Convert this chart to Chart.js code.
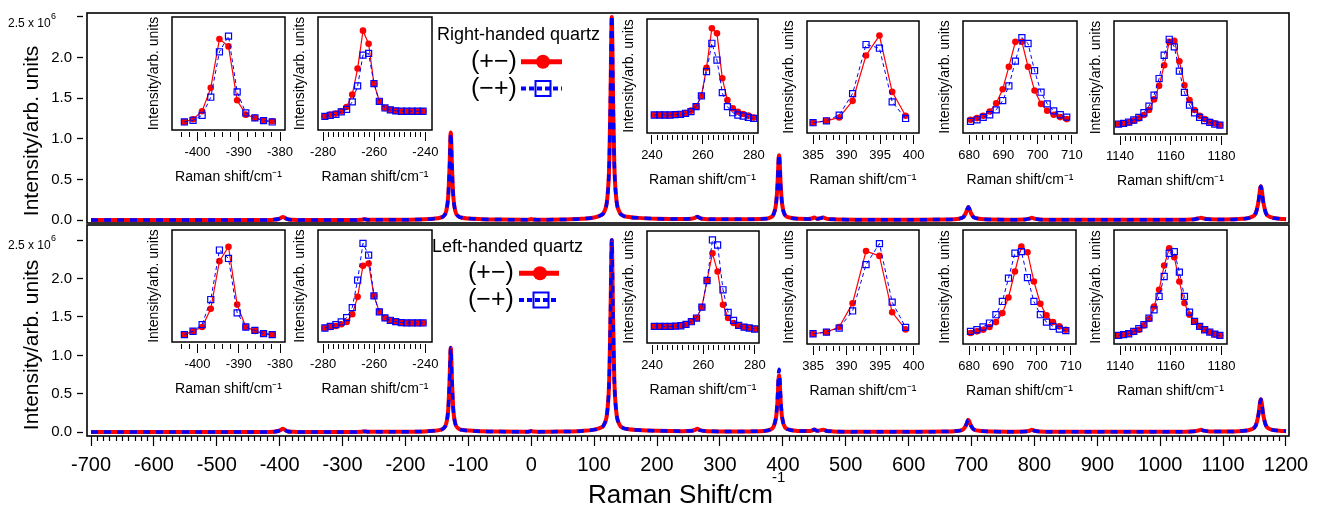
<!DOCTYPE html>
<html><head><meta charset="utf-8">
<script src="https://cdn.jsdelivr.net/npm/chart.js@4.4.1/dist/chart.umd.min.js"></script>
<style>
html,body{margin:0;padding:0;background:#fff;}
#wrap{position:relative;width:1322px;height:508px;overflow:hidden;background:#fff;}
#wrap canvas{position:absolute;}
#wrap svg{position:absolute;left:0;top:0;pointer-events:none;}
</style></head>
<body><div id="wrap"></div>
<script>
// ---------- main spectra (Raman shift in cm-1, intensity in units of 10^6) ----------
const mainShift = [-700,-600,-500,-430,-410,-402,-398,-395,-392,-388,
 -380,-360,-300,-280,-270,-265,-260,-250,-200,-170,
 -155,-145,-140,-135,-132,-130,-128,-126,-124,-121,
 -116,-110,-100,-80,-50,-10,-3,0,3,10,
 50,80,100,110,116,121,124,126,128,130,
 132,135,140,145,155,170,200,240,255,260,
 264,268,275,300,340,370,380,385,389,391,
 394,397,399,403,410,425,440,446,450,454,
 458,464,470,480,520,600,660,680,687,691,
 695,699,703,712,730,770,785,792,796,800,
 808,830,950,1040,1055,1061,1065,1069,1078,1100,
 1130,1145,1152,1156,1160,1164,1168,1175,1190,1200];
const topPlusMinus = [0.003,0.003,0.003,0.004,0.008,0.016,0.03,0.042,0.03,0.014,
 0.007,0.004,0.004,0.005,0.007,0.012,0.007,0.006,0.008,0.012,
 0.02,0.032,0.048,0.12,0.3,0.64,1.08,0.64,0.3,0.12,
 0.05,0.032,0.022,0.014,0.009,0.007,0.01,0.016,0.01,0.008,
 0.01,0.018,0.035,0.06,0.105,0.28,0.7,1.53,2.5,1.53,
 0.7,0.28,0.105,0.06,0.04,0.03,0.02,0.015,0.02,0.03,
 0.045,0.028,0.017,0.012,0.012,0.018,0.035,0.07,0.19,0.37,
 0.8,0.37,0.19,0.07,0.035,0.018,0.016,0.022,0.036,0.02,
 0.022,0.034,0.018,0.012,0.008,0.008,0.01,0.02,0.04,0.09,
 0.165,0.09,0.04,0.02,0.01,0.008,0.01,0.02,0.032,0.02,
 0.01,0.007,0.006,0.008,0.014,0.024,0.032,0.022,0.012,0.01,
 0.018,0.04,0.09,0.22,0.42,0.22,0.09,0.04,0.02,0.014];
const topMinusPlus = [0.003,0.003,0.003,0.004,0.008,0.016,0.03,0.042,0.03,0.014,
 0.007,0.004,0.004,0.005,0.007,0.012,0.007,0.006,0.008,0.012,
 0.02,0.032,0.048,0.12,0.3,0.63,1.07,0.63,0.3,0.12,
 0.05,0.032,0.022,0.014,0.009,0.007,0.01,0.016,0.01,0.008,
 0.01,0.018,0.035,0.06,0.105,0.28,0.7,1.54,2.52,1.54,
 0.7,0.28,0.105,0.06,0.04,0.03,0.02,0.015,0.02,0.03,
 0.045,0.028,0.017,0.012,0.012,0.018,0.035,0.07,0.19,0.37,
 0.81,0.37,0.19,0.07,0.035,0.018,0.016,0.022,0.036,0.02,
 0.022,0.034,0.018,0.012,0.008,0.008,0.01,0.02,0.04,0.09,
 0.165,0.09,0.04,0.02,0.01,0.008,0.01,0.02,0.032,0.02,
 0.01,0.007,0.006,0.008,0.014,0.024,0.032,0.022,0.012,0.01,
 0.018,0.04,0.09,0.22,0.42,0.22,0.09,0.04,0.02,0.014];
const bottomPlusMinus = [0.003,0.003,0.003,0.004,0.008,0.017,0.032,0.045,0.032,0.014,
 0.007,0.004,0.004,0.005,0.007,0.012,0.007,0.006,0.008,0.012,
 0.02,0.032,0.048,0.12,0.3,0.65,1.1,0.65,0.3,0.12,
 0.05,0.032,0.022,0.014,0.009,0.007,0.01,0.016,0.01,0.008,
 0.01,0.018,0.035,0.06,0.105,0.28,0.7,1.53,2.5,1.53,
 0.7,0.28,0.105,0.06,0.04,0.03,0.02,0.015,0.02,0.03,
 0.045,0.028,0.017,0.012,0.012,0.018,0.035,0.07,0.18,0.34,
 0.74,0.34,0.18,0.07,0.035,0.018,0.016,0.022,0.036,0.02,
 0.022,0.034,0.018,0.012,0.008,0.008,0.01,0.02,0.04,0.088,
 0.16,0.088,0.04,0.02,0.01,0.008,0.01,0.02,0.032,0.02,
 0.01,0.007,0.006,0.008,0.014,0.024,0.032,0.022,0.012,0.01,
 0.018,0.04,0.09,0.22,0.43,0.22,0.09,0.04,0.02,0.014];
const bottomMinusPlus = [0.003,0.003,0.003,0.004,0.008,0.017,0.032,0.045,0.032,0.014,
 0.007,0.004,0.004,0.005,0.007,0.012,0.007,0.006,0.008,0.012,
 0.02,0.032,0.048,0.12,0.3,0.65,1.1,0.65,0.3,0.12,
 0.05,0.032,0.022,0.014,0.009,0.007,0.01,0.016,0.01,0.008,
 0.01,0.018,0.035,0.06,0.105,0.28,0.7,1.53,2.5,1.53,
 0.7,0.28,0.105,0.06,0.04,0.03,0.02,0.015,0.02,0.03,
 0.045,0.028,0.017,0.012,0.012,0.018,0.035,0.075,0.2,0.38,
 0.82,0.38,0.2,0.075,0.035,0.018,0.016,0.022,0.036,0.02,
 0.022,0.034,0.018,0.012,0.008,0.008,0.01,0.02,0.04,0.09,
 0.165,0.09,0.04,0.02,0.01,0.008,0.01,0.02,0.032,0.02,
 0.01,0.007,0.006,0.008,0.014,0.024,0.032,0.022,0.012,0.01,
 0.018,0.04,0.09,0.22,0.43,0.22,0.09,0.04,0.02,0.014];
const mainXTickLabels = [-700,-600,-500,-400,-300,-200,-100,0,100,200,300,400,500,600,700,800,900,1000,1100,1200];
const mainYTickLabels = [0,0.5,1,1.5,2,2.5];

// ---------- insets (Raman shift in cm-1, intensity in arb. units) ----------
const insetShift1 = [-403.2,-401.1,-398.9,-396.8,-394.7,-392.5,-390.4,-388.3,-386.1,-384.0,-381.9];
const top1PlusMinus = [7.1,9.5,16.6,37.3,80.5,74.0,26.3,13.6,10.7,8.6,7.7];
const top1MinusPlus = [7.1,8.6,13.0,29.0,69.2,83.1,33.7,15.1,10.7,8.3,7.1];
const bottom1PlusMinus = [6.6,9.6,13.4,29.6,72.2,85.1,33.4,13.4,9.9,7.5,6.6];
const bottom1MinusPlus = [6.6,9.6,15.5,37.9,82.1,74.6,26.0,13.4,10.4,7.5,6.6];
const insetTicks1 = [-400,-390,-380];

const insetShift2 = [-279.3,-277.2,-275.0,-272.9,-270.8,-268.6,-266.5,-264.4,-262.2,-260.1,-258.0,-255.8,-253.7,-251.6,-249.4,-247.3,-245.2,-243.0,-240.9];
const top2PlusMinus = [12.1,13.6,14.5,16.6,20.4,31.4,54.4,87.9,76.3,41.1,25.4,19.5,17.8,16.9,16.6,16.6,16.6,16.6,16.6];
const top2MinusPlus = [12.1,13.0,13.9,16.0,18.3,24.9,39.1,66.3,67.8,41.1,25.4,19.5,17.8,16.9,16.6,16.6,16.6,16.6,16.6];
const bottom2PlusMinus = [12.5,13.4,14.3,15.8,17.9,24.8,40.3,68.1,70.1,41.2,26.9,21.5,19.4,18.2,17.3,17.0,17.0,17.0,17.0];
const bottom2MinusPlus = [12.5,14.0,15.5,17.9,21.8,30.7,55.2,88.1,77.6,41.2,26.9,21.5,19.4,18.2,17.3,17.0,17.0,17.0,17.0];
const insetTicks2 = [-280,-260,-240];

const insetShift3 = [240.9,243.0,245.0,247.1,249.1,251.2,253.2,255.3,257.3,259.4,261.4,263.5,265.5,267.6,269.6,271.7,273.7,275.8,277.8,279.9];
const top3PlusMinus = [15.8,15.8,15.8,15.8,16.1,16.4,17.5,19.6,23.1,32.5,57.3,91.8,87.4,48.0,28.9,21.6,18.7,16.7,15.2,13.5];
const top3MinusPlus = [15.8,15.8,15.8,15.8,16.1,16.4,17.3,18.7,23.1,32.5,53.8,78.7,64.0,35.4,23.1,17.8,15.8,14.9,13.7,12.9];
const bottom3PlusMinus = [14.8,14.8,14.8,14.8,15.1,15.4,16.6,19.0,22.3,32.0,55.8,80.1,63.8,34.1,22.3,17.8,15.7,14.2,13.4,12.5];
const bottom3MinusPlus = [14.8,14.8,14.8,14.8,15.1,15.4,16.6,19.0,22.3,32.0,55.8,92.0,87.5,47.5,27.3,20.2,15.7,14.2,13.4,12.5];
const insetTicks3 = [240,260,280];

const insetShift4 = [385.0,387.0,388.9,390.9,392.9,394.9,396.8,398.8];
const top4PlusMinus = [9.2,10.9,13.9,28.7,69.2,87.0,36.7,15.4];
const top4MinusPlus = [9.2,10.9,16.0,35.2,79.0,75.7,27.8,13.0];
const bottom4PlusMinus = [9.0,10.4,14.9,35.8,81.5,77.3,27.8,12.8];
const bottom4MinusPlus = [9.0,10.4,14.0,29.0,69.6,88.1,36.7,14.6];
const insetTicks4 = [385,390,395,400];

const insetShift5 = [680.4,682.3,684.1,686.0,687.9,689.8,691.6,693.5,695.4,697.2,699.1,701.0,702.8,704.7,706.6,708.5];
const top5PlusMinus = [11.8,13.3,15.4,19.2,26.6,39.1,59.2,81.4,81.4,59.2,37.9,26.0,19.8,16.3,14.2,12.4];
const top5MinusPlus = [10.4,11.8,13.9,16.3,20.7,29.0,42.0,64.2,85.2,79.9,55.6,36.4,26.0,19.8,16.3,14.2];
const bottom5PlusMinus = [9.6,11.1,12.5,14.9,19.2,27.1,40.8,63.6,85.4,80.5,54.8,35.3,25.1,19.2,15.5,12.5];
const bottom5MinusPlus = [11.1,12.5,14.9,18.4,25.7,37.3,57.7,79.6,81.0,58.3,37.3,25.7,19.2,15.5,13.1,11.7];
const insetTicks5 = [680,690,700,710];

const insetShift6 = [1139.4,1141.4,1143.4,1145.4,1147.4,1149.4,1151.4,1153.4,1155.4,1157.4,1159.4,1161.4,1163.4,1165.4,1167.4,1169.4,1171.4,1173.4,1175.4,1177.4,1179.4];
const top6PlusMinus = [8.8,9.4,10.3,11.8,13.8,16.8,21.2,30.6,42.6,60.9,81.5,82.4,64.4,43.2,30.0,21.2,16.2,13.2,10.9,9.4,7.9];
const top6MinusPlus = [8.8,9.4,10.6,12.4,14.7,18.8,24.7,34.4,49.1,69.7,83.8,77.1,55.6,36.8,25.6,18.8,14.7,11.8,10.3,8.8,7.9];
const bottom6PlusMinus = [7.6,8.2,9.0,10.5,12.5,16.3,21.9,32.9,47.5,68.8,84.0,76.1,54.8,35.9,25.7,19.8,15.5,12.5,10.5,8.7,7.6];
const bottom6MinusPlus = [7.6,8.2,9.0,11.1,13.4,16.9,22.7,30.0,41.7,59.2,79.6,81.0,63.0,41.7,28.0,19.8,15.5,12.5,10.5,8.7,7.6];
const insetTicks6 = [1140,1160,1180];

// ---------- rendering ----------
Chart.defaults.font.family = "'Liberation Sans', Arial, sans-serif";
Chart.defaults.color = '#000';
const RED = '#ff0000', BLUE = '#0000ff';
const wrap = document.getElementById('wrap');

const framePlugin = {
  id: 'frame',
  afterDatasetsDraw(chart, args, opts) {
    const a = chart.chartArea, ctx = chart.ctx;
    ctx.save();
    ctx.strokeStyle = '#000';
    ctx.lineWidth = opts.width || 1.5;
    ctx.strokeRect(a.left, a.top, a.right - a.left, a.bottom - a.top);
    ctx.restore();
  }
};

function addCanvas(left, top, w, h) {
  const c = document.createElement('canvas');
  c.width = w; c.height = h;
  c.style.left = left + 'px'; c.style.top = top + 'px';
  c.style.width = w + 'px'; c.style.height = h + 'px';
  wrap.appendChild(c);
  return c;
}
const pts = (xs, ys) => xs.map((x, i) => ({x: x, y: ys[i]}));

function mainChart(cfg) {
  const c = addCanvas(0, cfg.top, 1322, cfg.height);
  const minorTicks = [];
  for (let v = mainXTickLabels[0]; v <= mainXTickLabels[mainXTickLabels.length - 1]; v += 10) minorTicks.push(v);
  new Chart(c, {
    type: 'line',
    data: { datasets: [
      { data: pts(mainShift, cfg.red), borderColor: RED, borderWidth: 4, pointRadius: 0, cubicInterpolationMode: 'monotone',
        borderJoinStyle: 'round', order: 1 },
      { data: pts(mainShift, cfg.blue), borderColor: BLUE, borderWidth: 3.5, borderDash: [7, 6], pointRadius: 0,
        cubicInterpolationMode: 'monotone', borderJoinStyle: 'round', order: 0 }
    ]},
    options: {
      responsive: false, animation: false, devicePixelRatio: 1, events: [],
      layout: { padding: { left: 0, top: cfg.padTop, right: 33, bottom: cfg.padBottom } },
      plugins: { legend: { display: false }, tooltip: { enabled: false }, frame: { width: 1.6 } },
      scales: {
        x: {
          type: 'linear', min: -706.36, max: 1204.77, display: cfg.showX,
          afterBuildTicks: s => { s.ticks = minorTicks.map(v => ({value: v})); },
          afterFit: s => { s.height = cfg.showX ? 40 : 0; s.paddingLeft = 0; s.paddingRight = 0; },
          ticks: { autoSkip: false, maxRotation: 0, minRotation: 0, padding: 7, font: { size: 20 },
            callback: v => mainXTickLabels.includes(v) ? String(v) : '' },
          grid: { display: true, drawOnChartArea: false, drawTicks: true, tickLength: 10, tickColor: '#000', tickWidth: 1.2,
            tickBorderDash: ctx => (ctx.tick && mainXTickLabels.includes(ctx.tick.value)) ? [10, 100] : [5, 100] },
          border: { display: false }
        },
        y: {
          min: cfg.yMin, max: cfg.yMax,
          afterBuildTicks: s => { s.ticks = mainYTickLabels.map(v => ({value: v})); },
          afterFit: s => { s.width = 87; s.paddingTop = 0; s.paddingBottom = 0; },
          ticks: { padding: 5, font: { size: 15 }, callback: v => v === 2.5 ? '' : v.toFixed(1) },
          grid: { display: true, drawOnChartArea: false, drawTicks: true, tickLength: 10, tickColor: '#000', tickWidth: 1.3,
            tickBorderDash: [6, 100] },
          border: { display: false }
        }
      }
    },
    plugins: [framePlugin]
  });
}

mainChart({ top: 0, height: 232, padTop: 13, padBottom: 9, yMin: -0.033, yMax: 2.549, red: topPlusMinus, blue: topMinusPlus, showX: false });
mainChart({ top: 0, height: 508, padTop: 225, padBottom: 32, yMin: -0.048, yMax: 2.695, red: bottomPlusMinus, blue: bottomMinusPlus, showX: true });

const insets = [
  { shift: insetShift1, ticks: insetTicks1, from: -404, to: -380, step: 2, range: [-406.2, -378.8],
    top: [top1PlusMinus, top1MinusPlus], bottom: [bottom1PlusMinus, bottom1MinusPlus],
    fTop: [172, 17, 285, 130], fBot: [172, 230, 285, 342] },
  { shift: insetShift2, ticks: insetTicks2, from: -280, to: -240, step: 2, range: [-282.0, -237.4],
    top: [top2PlusMinus, top2MinusPlus], bottom: [bottom2PlusMinus, bottom2MinusPlus],
    fTop: [318, 17, 432, 130], fBot: [318, 230, 432, 342] },
  { shift: insetShift3, ticks: insetTicks3, from: 240, to: 280, step: 2, range: [238.05, 281.6],
    top: [top3PlusMinus, top3MinusPlus], bottom: [bottom3PlusMinus, bottom3MinusPlus],
    fTop: [647, 19, 758, 133], fBot: [647, 231, 759, 343] },
  { shift: insetShift4, ticks: insetTicks4, from: 385, to: 400, step: 1, range: [384.1, 400.8],
    top: [top4PlusMinus, top4MinusPlus], bottom: [bottom4PlusMinus, bottom4MinusPlus],
    fTop: [807, 21, 919, 133], fBot: [807, 230, 919, 344] },
  { shift: insetShift5, ticks: insetTicks5, from: 680, to: 710, step: 2, range: [678.2, 711.5],
    top: [top5PlusMinus, top5MinusPlus], bottom: [bottom5PlusMinus, bottom5MinusPlus],
    fTop: [963, 21, 1077, 133], fBot: [963, 230, 1076, 344] },
  { shift: insetShift6, ticks: insetTicks6, from: 1140, to: 1180, step: 2, range: [1137.6, 1182.2],
    top: [top6PlusMinus, top6MinusPlus], bottom: [bottom6PlusMinus, bottom6MinusPlus],
    fTop: [1114, 21, 1227, 134], fBot: [1114, 230, 1227, 344] }
];

function insetChart(ins, frame, vals) {
  const [L, T, R, B] = frame;
  const YW = 26, PT = 6, PR = 16, XH = 58;
  const c = addCanvas(L - YW, T - PT, (R - L) + YW + PR, (B - T) + PT + XH);
  const all = [];
  for (let v = ins.from; v <= ins.to + 1e-9; v += ins.step) all.push(Math.round(v * 10) / 10);
  new Chart(c, {
    type: 'line',
    data: { datasets: [
      { data: pts(ins.shift, vals[0]), borderColor: RED, borderWidth: 1.2, tension: 0, order: 1,
        pointStyle: 'circle', pointRadius: 3.3, pointBackgroundColor: RED, pointBorderColor: RED, pointBorderWidth: 0 },
      { data: pts(ins.shift, vals[1]), borderColor: BLUE, borderWidth: 1, borderDash: [4, 3], tension: 0, order: 0,
        pointStyle: 'rect', pointRadius: 4.3, pointBackgroundColor: 'rgba(0,0,0,0)', pointBorderColor: BLUE, pointBorderWidth: 1.2 }
    ]},
    options: {
      responsive: false, animation: false, devicePixelRatio: 1, events: [],
      layout: { padding: { left: 0, top: PT, right: PR, bottom: 0 } },
      plugins: { legend: { display: false }, tooltip: { enabled: false }, frame: { width: 1.5 } },
      scales: {
        x: {
          type: 'linear', min: ins.range[0], max: ins.range[1],
          afterBuildTicks: s => { s.ticks = all.map(v => ({value: v})); },
          afterFit: s => { s.height = XH; s.paddingLeft = 0; s.paddingRight = 0; },
          ticks: { autoSkip: false, maxRotation: 0, minRotation: 0, padding: 4, font: { size: 13 },
            callback: v => ins.ticks.includes(v) ? String(v) : '' },
          grid: { display: true, drawOnChartArea: false, drawTicks: true, tickLength: 11, tickColor: '#000', tickWidth: 1,
            tickBorderDash: ctx => (ctx.tick && ins.ticks.includes(ctx.tick.value)) ? [0, 2, 9, 100] : [0, 2, 5, 100] },
          border: { display: false },
          title: { display: true, text: 'Raman shift/cm\u207B\u00B9', font: { size: 14 }, padding: { top: 0, bottom: 2 } }
        },
        y: {
          min: 0, max: 100,
          afterFit: s => { s.width = YW; s.paddingTop = 0; s.paddingBottom = 0; },
          ticks: { display: false }, grid: { display: false }, border: { display: false },
          title: { display: true, text: 'Intensity/arb. units', font: { size: 14 }, padding: 0 }
        }
      }
    },
    plugins: [framePlugin]
  });
}
insets.forEach(ins => { insetChart(ins, ins.fTop, ins.top); insetChart(ins, ins.fBot, ins.bottom); });

// ---------- text overlay (titles, exponent labels, legends) ----------
const svgNS = 'http://www.w3.org/2000/svg';
const svg = document.createElementNS(svgNS, 'svg');
svg.setAttribute('width', 1322); svg.setAttribute('height', 508);
svg.setAttribute('font-family', "'Liberation Sans', Arial, sans-serif");
svg.innerHTML = `
<text x="8" y="26.5" font-size="12">2.5 x 10</text><text x="51" y="19" font-size="9">6</text>
<text x="8" y="248.5" font-size="12">2.5 x 10</text><text x="51" y="241" font-size="9">6</text>
<text transform="translate(38,131) rotate(-90)" text-anchor="middle" font-size="21">Intensity/arb. units</text>
<text transform="translate(38,345) rotate(-90)" text-anchor="middle" font-size="21">Intensity/arb. units</text>
<text x="588" y="503" font-size="26">Raman Shift/cm</text><text x="772" y="482" font-size="15">-1</text>

<text x="437" y="39.5" font-size="18">Right-handed quartz</text>
<text x="471" y="69" font-size="25">(+\u2212)</text>
<line x1="521" y1="61.7" x2="562" y2="61.7" stroke="${RED}" stroke-width="5"/>
<circle cx="543" cy="61.7" r="7" fill="${RED}"/>
<text x="471" y="95.5" font-size="25">(\u2212+)</text>
<line x1="521" y1="88.5" x2="562" y2="88.5" stroke="${BLUE}" stroke-width="4" stroke-dasharray="5 3"/>
<rect x="535.5" y="81" width="15" height="15" fill="none" stroke="${BLUE}" stroke-width="2"/>

<text x="432" y="251.7" font-size="18">Left-handed quartz</text>
<text x="468" y="280" font-size="25">(+\u2212)</text>
<line x1="519" y1="273.3" x2="559" y2="273.3" stroke="${RED}" stroke-width="5"/>
<circle cx="540" cy="273.3" r="7" fill="${RED}"/>
<text x="468" y="307" font-size="25">(\u2212+)</text>
<line x1="519" y1="300" x2="559" y2="300" stroke="${BLUE}" stroke-width="4" stroke-dasharray="5 3"/>
<rect x="533.5" y="292.5" width="15" height="15" fill="none" stroke="${BLUE}" stroke-width="2"/>
`;
wrap.appendChild(svg);
</script>
</body></html>
